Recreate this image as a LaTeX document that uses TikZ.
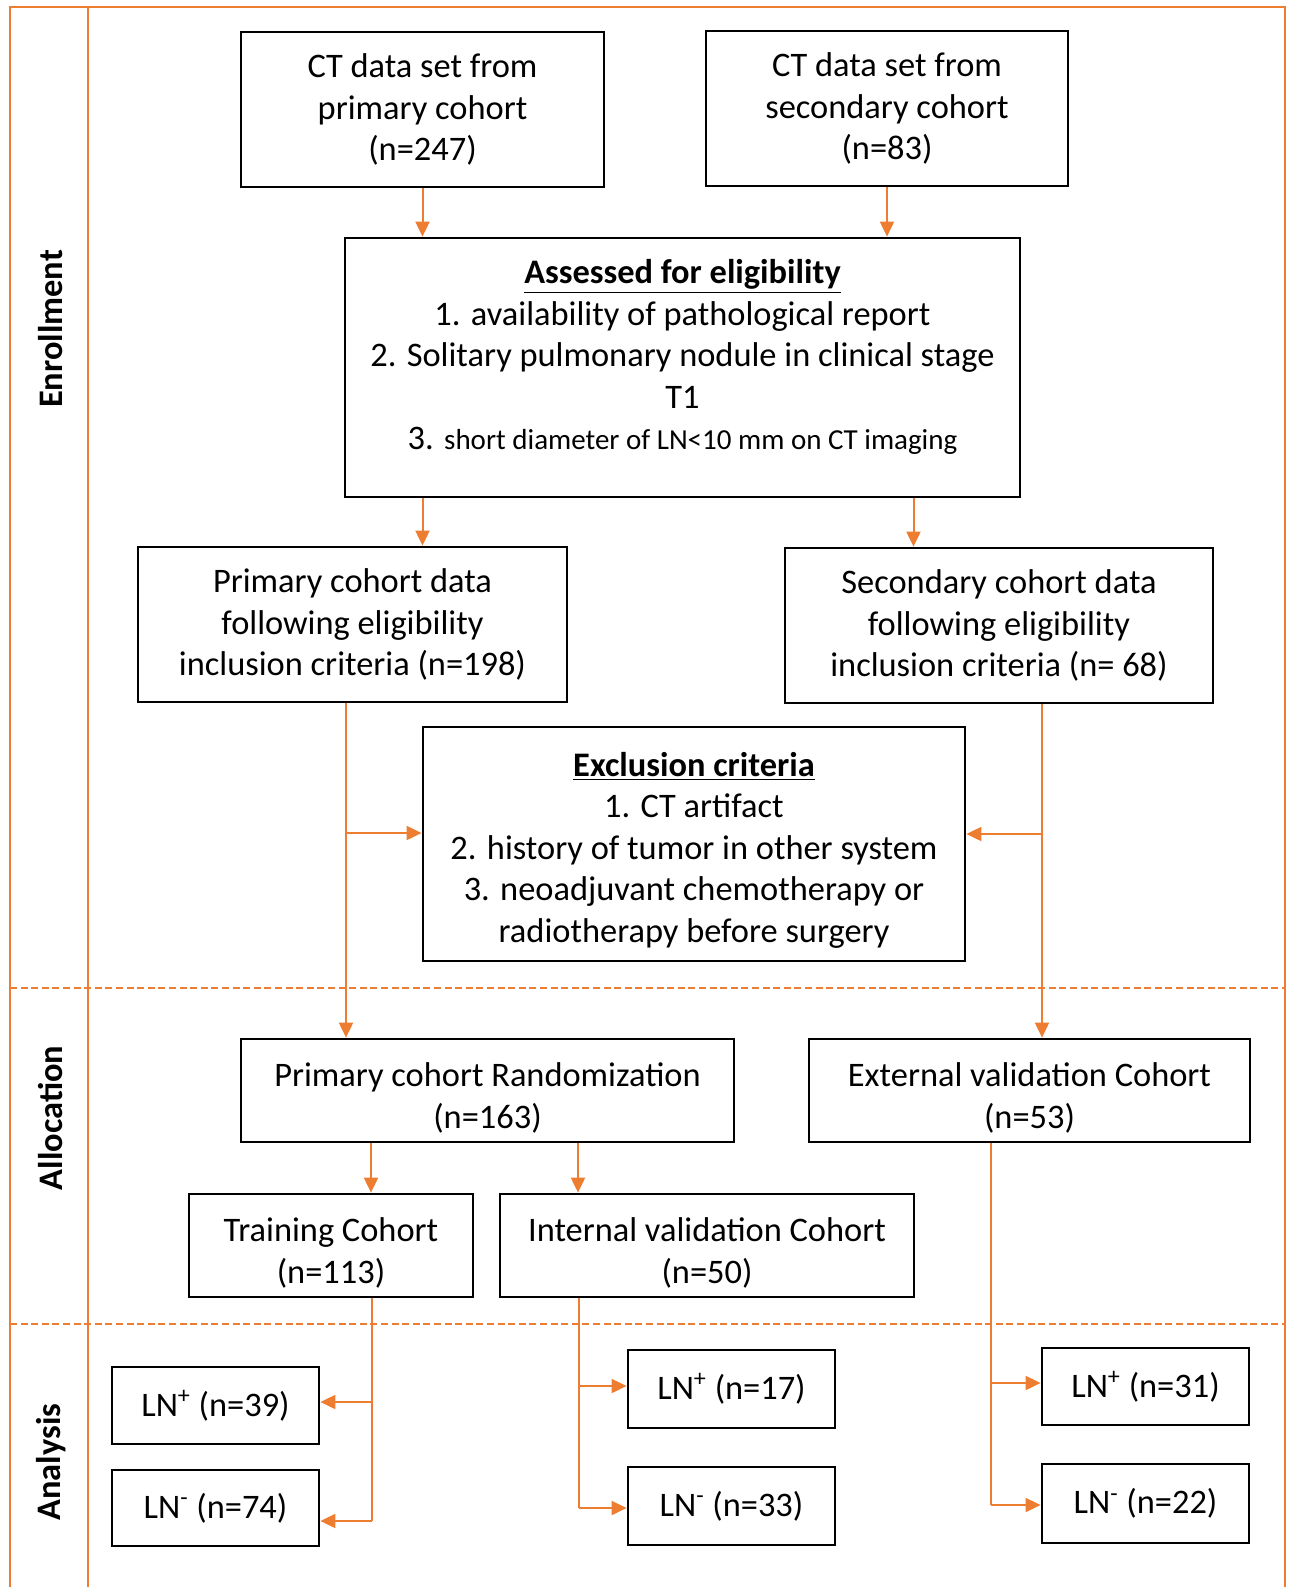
\documentclass[tikz,border=0pt]{standalone}
\usepackage{fontspec}
\setmainfont{Carlito}
\usepackage{tikz}
\usetikzlibrary{calc}
\usetikzlibrary{positioning}
\usetikzlibrary{arrows.meta}
\definecolor{flowOrange}{RGB}{237,125,49}
\newcommand{\lowgap}[1]{\rule{0pt}{#1}}

\tikzset{
  box/.style={rectangle, draw=black, line width=1.4pt, align=center, inner sep=2pt,
              font=\fontsize{17.2}{20.75}\selectfont},
  line/.style={draw=flowOrange, line width=1pt},
  arr/.style={line, -{Triangle[length=7.5pt,width=7pt]}},
  sep/.style={draw=flowOrange, line width=1pt, dash pattern=on 3.5pt off 1.8pt},
  side/.style={rotate=90, font=\bfseries\fontsize{17.2}{20}\selectfont}
}

\begin{document}
\begin{tikzpicture}[x=0.5pt, y=-0.5pt]
\useasboundingbox (0,0) rectangle (1289,1587);

% frame and phase separators
\draw[line] (10,1587) -- (10,7) -- (1285,7) -- (1285,1587);
\draw[line] (88,7) -- (88,1587);
\draw[sep] (10,988) -- (1285,988);
\draw[sep] (10,1324) -- (1285,1324);

\node[side] (enr)   at (51,329)  {Enrollment};
\node[side] (alloc) at (51,1118) {Allocation};
\node[side] (anal)  at (51,1462) {Analysis};

% enrollment
\node[box, minimum width=181.5pt, minimum height=77.5pt] (ctA)  at (422.5,109.5) {CT data set from\\primary cohort\\(n=247)};
\node[box, minimum width=181pt,   minimum height=77.5pt] (ctB)  at (887,108.5)   {CT data set from\\secondary cohort\\(n=83)};
\node[box, minimum width=337.5pt, minimum height=129.5pt] (elig) at (682.5,367.5)
    {\underline{\textbf{Assessed for eligibility}}\\
     1. availability of pathological report\\
     2. Solitary pulmonary nodule in clinical stage\\
     T1\\
     3. {\fontsize{14.5}{17}\selectfont short diameter of LN<10 mm on CT imaging}\rule[-13pt]{0pt}{13pt}};
\node[box, minimum width=214.5pt, minimum height=77.5pt] (primA) at (352.5,624.5) {Primary cohort data\\following eligibility\\inclusion criteria (n=198)};
\node[box, minimum width=214pt,   minimum height=77.5pt] (secA)  at (999,625.5)   {Secondary cohort data\\following eligibility\\inclusion criteria (n= 68)};
\node[box, minimum width=271pt,   minimum height=117pt]  (excl)  at (694,844)
    {\lowgap{18pt}\underline{\textbf{Exclusion criteria}}\\
     1. CT artifact\\
     2. history of tumor in other system\\
     3. neoadjuvant chemotherapy or\\
     radiotherapy before surgery};

% allocation
\node[box, minimum width=246.5pt, minimum height=51.5pt] (rand)  at (487.5,1090.5) {\lowgap{19.5pt}Primary cohort Randomization\\(n=163)};
\node[box, minimum width=220.5pt, minimum height=51.5pt] (extv)  at (1029.5,1090.5) {\lowgap{19.5pt}External validation Cohort\\(n=53)};
\node[box, minimum width=142pt,   minimum height=51.5pt] (train) at (331,1245.5) {\lowgap{19.5pt}Training Cohort\\(n=113)};
\node[box, minimum width=207pt,   minimum height=51.5pt] (intv)  at (707,1245.5) {\lowgap{19.5pt}Internal validation Cohort\\(n=50)};

% analysis
\node[box, minimum width=103.5pt, minimum height=38.5pt] (lnpA) at (215.5,1405.5) {LN\textsuperscript{+} (n=39)};
\node[box, minimum width=103.5pt, minimum height=38pt]   (lnmA) at (215.5,1508)   {LN\textsuperscript{-} (n=74)};
\node[box, minimum width=103.5pt, minimum height=39pt]   (lnpB) at (731.5,1389)   {LN\textsuperscript{+} (n=17)};
\node[box, minimum width=103.5pt, minimum height=39pt]   (lnmB) at (731.5,1506)   {LN\textsuperscript{-} (n=33)};
\node[box, minimum width=103.5pt, minimum height=38.5pt] (lnpC) at (1145.5,1386.5) {LN\textsuperscript{+} (n=31)};
\node[box, minimum width=103.5pt, minimum height=39.5pt] (lnmC) at (1145.5,1503.5) {LN\textsuperscript{-} (n=22)};

% branch points
\coordinate (bA) at (346,833);
\coordinate (bB) at (1042,834);
\coordinate (tA) at (372,1402);
\coordinate (tB) at (372,1521);
\coordinate (iA) at (579,1386);
\coordinate (iB) at (579,1508);
\coordinate (eA) at (991,1383);
\coordinate (eB) at (991,1505);

% connectors
\draw[arr] (ctA.south) -- (ctA.south |- elig.north);
\draw[arr] (ctB.south) -- (ctB.south |- elig.north);
\draw[arr] (ctA.south |- elig.south) -- (ctA.south |- primA.north);
\draw[arr] ([xshift=115.5pt]elig.south) -- ([xshift=115.5pt]elig.south |- secA.north);

\draw[arr] (bA |- primA.south) -- (bA |- rand.north);
\draw[arr] (bA) -- (bA -| excl.west);
\draw[arr] (bB |- secA.south) -- (bB |- extv.north);
\draw[arr] (bB) -- (bB -| excl.east);

\draw[arr] (371,0 |- rand.south) -- (371,0 |- train.north);
\draw[arr] (578,0 |- rand.south) -- (578,0 |- intv.north);

\draw[line] (tA |- train.south) -- (tB);
\draw[arr] (tA) -- (tA -| lnpA.east);
\draw[arr] (tB) -- (tB -| lnmA.east);
\draw[line] (iA |- intv.south) -- (iB);
\draw[arr] (iA) -- (iA -| lnpB.west);
\draw[arr] (iB) -- (iB -| lnmB.west);
\draw[line] (eA |- extv.south) -- (eB);
\draw[arr] (eA) -- (eA -| lnpC.west);
\draw[arr] (eB) -- (eB -| lnmC.west);
\end{tikzpicture}
\end{document}
